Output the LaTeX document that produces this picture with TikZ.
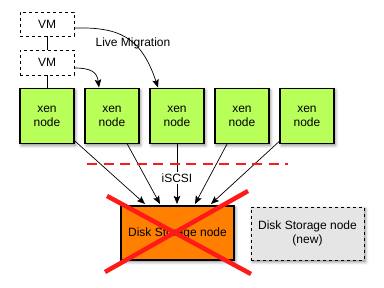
\documentclass[tikz,border=0pt]{standalone}
\usepackage{fontspec}
\setmainfont{Liberation Sans}
\usetikzlibrary{arrows.meta,shadows.blur}
\definecolor{xengreen}{HTML}{B9FF5A}
\definecolor{diskorange}{HTML}{FF8000}
\definecolor{newgray}{HTML}{E5E5E5}
\definecolor{crossred}{HTML}{FF1A1A}
\tikzset{
  boxshadow/.style={blur shadow={shadow xshift=1.5pt, shadow yshift=-2pt, shadow blur radius=3pt, shadow opacity=45}},
  xenbox/.style={draw=black, line width=1.1pt, fill=xengreen, minimum width=54pt, minimum height=55pt,
    align=center, inner sep=0pt, boxshadow},
  vmbox/.style={draw=black, dashed, line width=0.8pt, fill=white, minimum width=54pt, minimum height=24pt, inner sep=0pt},
  diskbox/.style={draw=black, line width=1.1pt, fill=diskorange, minimum width=113pt, minimum height=54pt,
    align=center, inner sep=0pt, boxshadow},
  newbox/.style={draw=black, dashed, line width=0.8pt, fill=newgray, minimum width=113pt, minimum height=53pt,
    align=center, inner sep=0pt, boxshadow},
  conn/.style={draw=black, line width=0.7pt, -{Stealth[length=8pt,width=6.5pt,inset=1.5pt]}},
  plain/.style={draw=black, line width=0.8pt},
}
\begin{document}
\begin{tikzpicture}[x=1pt, y=-1pt, font=\fontsize{12}{14}\selectfont]
\useasboundingbox (0,0) rectangle (384,288);

% virtual machines stacked on the first host
\node[vmbox] (vm1) at (47,24) {VM};
\node[vmbox, minimum height=25pt] (vm2) at (47,62.5) {VM};

% xen hosts
\node[xenbox] (xen1) at (47,116) {xen\\node};
\node[xenbox] (xen2) at (112,116) {xen\\node};
\node[xenbox] (xen3) at (177,116) {xen\\node};
\node[xenbox] (xen4) at (242,116) {xen\\node};
\node[xenbox] (xen5) at (307,116) {xen\\node};

% shared storage
\node[diskbox] (disk) at (177.5,233) {Disk Storage node};
\node[newbox] (newdisk) at (307.5,233.5) {Disk Storage node\\(new)};

% arrow targets on top of the storage node
\coordinate (t1) at (145,204);
\coordinate (t2) at (160,204);
\coordinate (t3) at (177,204);
\coordinate (t4) at (195,204);
\coordinate (t5) at (211,204);
\coordinate (m1) at (158,87.5);
\coordinate (m2) at (99,87.5);

% VM stack lines
\draw[plain] (vm1) -- (vm2);
\draw[plain] (vm2) -- (xen1);

% live migration arrows
\draw[conn] ([yshift=-4pt]vm1.east) .. controls (118,27) and (141,36) .. (m1);
\draw[conn] ([yshift=-5.5pt]vm2.east) .. controls (91,68) and (97,72) .. (m2);
\node (lm) at (133,43) {Live Migration};

% iSCSI links
\draw[conn] (xen1) -- (t1);
\draw[conn] (xen2) -- (t2);
\draw[conn] (xen3) -- node[pos=0.57, fill=white, inner sep=1.5pt] (iscsi) {iSCSI} (t3);
\draw[conn] (xen4) -- (t4);
\draw[conn] (xen5) -- (t5);

% network boundary
\draw[crossred, line width=2pt, dash pattern=on 10pt off 6.5pt] (87,164) -- (288,164);

% failed storage node crossed out
\draw[crossred, line width=4.5pt] (107,196) -- (251,274);
\draw[crossred, line width=4.5pt] (248,191) -- (105,272);
\end{tikzpicture}
\end{document}
